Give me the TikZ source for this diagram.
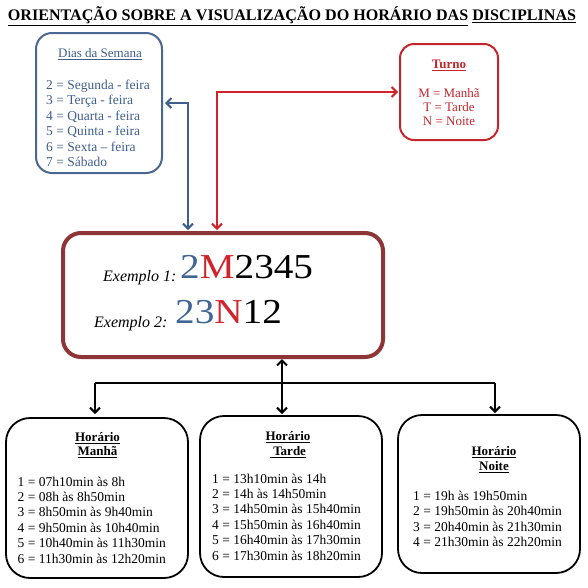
\documentclass[tikz,border=0pt]{standalone}
\usepackage{fontspec}
\setmainfont{Liberation Serif}
\usetikzlibrary{arrows.meta}
\definecolor{dblue}{HTML}{3E5E8C}
\definecolor{dbluebox}{HTML}{4A6791}
\definecolor{dred}{HTML}{C4262E}
\definecolor{mred}{HTML}{8E3538}
\definecolor{nblue}{HTML}{3F6593}
\definecolor{nred}{HTML}{D0232A}
\begin{document}
\begin{tikzpicture}[x=1pt,y=-1pt,
  box/.style={draw, rounded corners=#1, inner sep=0pt, outer sep=0pt},
  box/.default=24pt,
  txt/.style={inner sep=0pt, anchor=base west, font=\fontsize{13.5}{16}\selectfont},
  ctxt/.style={inner sep=0pt, anchor=base, font=\fontsize{13}{16}\selectfont},
  btitle/.style={inner sep=0pt, anchor=base, font=\fontsize{13}{16}\selectfont\bfseries},
  tip/.style={-{Straight Barb[length=5pt,width=10pt]}},
  dtip/.style={{Straight Barb[length=5pt,width=10pt]}-{Straight Barb[length=5pt,width=10pt]}},
  conn/.style={line width=2pt}
]
\useasboundingbox[fill=white] (0,0) rectangle (588,587);

% title
\node[inner sep=0pt, anchor=base, font=\fontsize{16.1}{19}\selectfont\bfseries] (title) at (292,20.7)
  {\underline{ORIENTAÇÃO SOBRE A VISUALIZAÇÃO DO HORÁRIO DAS} \underline{DISCIPLINAS}};

% boxes
\node[box=16pt, draw=dbluebox, line width=2pt, minimum width=126pt, minimum height=140pt] (dias) at (99,103) {};
\node[box=14pt, draw=dred, line width=2pt, minimum width=98pt, minimum height=96pt] (turno) at (449,92) {};
\node[box=18pt, draw=mred, line width=4pt, minimum width=320pt, minimum height=124pt] (main) at (223,295) {};
\node[box, draw=black, line width=1.8pt, minimum width=182pt, minimum height=160pt] (manha) at (97,498) {};
\node[box, draw=black, line width=1.8pt, minimum width=182pt, minimum height=161pt] (tarde) at (291,496.5) {};
\node[box, draw=black, line width=1.8pt, minimum width=182pt, minimum height=158pt] (noite) at (489,494) {};

% Dias da Semana
\node[ctxt, text=dblue] (diast) at (100,57.5) {\underline{Dias da Semana}};
\foreach \t [count=\i] in {{2 = Segunda - feira},{3 = Terça - feira},{4 = Quarta - feira},{5 = Quinta - feira},{6 = Sexta – feira},{7 = Sábado}}
  \node[txt, text=dblue] (d\i) at (46,{89.5+15.4*(\i-1)}) {\t};

% Turno
\node[btitle, text=dred] (turnot) at (449,68.5) {\underline{Turno}};
\node[ctxt, text=dred] (t1) at (449,97.5) {M = Manhã};
\node[ctxt, text=dred] (t2) at (449,111.5) {T = Tarde};
\node[ctxt, text=dred] (t3) at (449,125.5) {N = Noite};

% Examples
\node[inner sep=0pt, anchor=base west, font=\fontsize{16}{19}\selectfont\itshape] (e1) at (103,281) {Exemplo 1:};
\node[inner sep=0pt, anchor=base west] (n1) at (180,278)
  {\scalebox{1.12}[1]{\fontsize{35}{40}\selectfont\textcolor{nblue}{2}\textcolor{nred}{M}2345}};
\node[inner sep=0pt, anchor=base west, font=\fontsize{16}{19}\selectfont\itshape] (e2) at (94,327) {Exemplo 2:};
\node[inner sep=0pt, anchor=base west] (n2) at (175,323)
  {\scalebox{1.12}[1]{\fontsize{35}{40}\selectfont\textcolor{nblue}{23}\textcolor{nred}{N}12}};

% Horario Manha
\node[btitle] (mh1) at (97.5,441.5) {\underline{Horário}};
\node[btitle] (mh2) at (97.5,455.5) {\underline{Manhã}};
\foreach \t [count=\i] in {{1 = 07h10min às 8h},{2 = 08h às 8h50min},{3 = 8h50min às 9h40min},{4 = 9h50min às 10h40min},{5 = 10h40min às 11h30min},{6 = 11h30min às 12h20min}}
  \node[txt] (m\i) at (17.5,{486+15.4*(\i-1)}) {\t};

% Horario Tarde
\node[btitle] (th1) at (288,440.5) {\underline{Horário}};
\node[btitle] (th2) at (288,455.5) {\underline{~Tarde}};
\foreach \t [count=\i] in {{1 = 13h10min às 14h},{2 = 14h às 14h50min},{3 = 14h50min às 15h40min},{4 = 15h50min às 16h40min},{5 = 16h40min às 17h30min},{6 = 17h30min às 18h20min}}
  \node[txt] (a\i) at (212,{483+15.4*(\i-1)}) {\t};

% Horario Noite
\node[btitle] (nh1) at (494,455.5) {\underline{Horário}};
\node[btitle] (nh2) at (494,470.5) {\underline{Noite}};
\foreach \t [count=\i] in {{1 = 19h às 19h50min},{2 = 19h50min às 20h40min},{3 = 20h40min às 21h30min},{4 = 21h30min às 22h20min}}
  \node[txt] (o\i) at (413,{500+15.6*(\i-1)}) {\t};

% connectors
\coordinate (bc) at (188,103);
\coordinate (rc) at (217,92);
\coordinate (km) at (282,383);
\coordinate (kl) at (95,383);
\coordinate (kr) at (495,383);

\draw[conn, draw=dblue, dtip, shorten <=3pt, shorten >=3pt] (dias.east) -- (bc) -- (bc |- main.north);
\draw[conn, draw=nred, dtip, shorten <=2pt, shorten >=3pt] (turno.west) -- (rc) -- (rc |- main.north);
\draw[conn, draw=black, tip, shorten >=2pt] (km) -- (km |- main.south);
\draw[conn, draw=black] (kl) -- (kr);
\draw[conn, draw=black, tip, shorten >=4pt] (kl) -- (kl |- manha.north);
\draw[conn, draw=black, tip, shorten >=2pt] (km) -- (km |- tarde.north);
\draw[conn, draw=black, tip, shorten >=2pt] (kr) -- (kr |- noite.north);
\end{tikzpicture}
\end{document}
